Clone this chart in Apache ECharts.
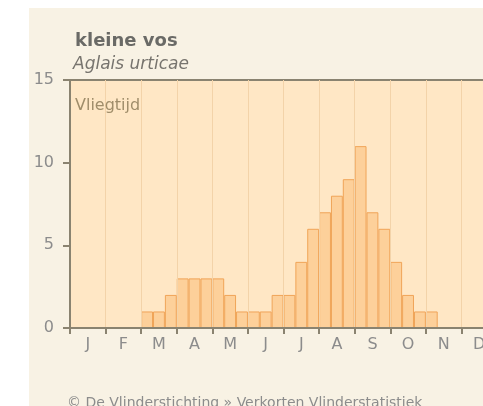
<!DOCTYPE html>
<html>
<head>
<meta charset="utf-8">
<script src="https://cdn.jsdelivr.net/npm/echarts@6/dist/echarts.min.js"></script>
<style>
    html, body { margin: 0; padding: 0; background: #ffffff; }
    #chart { width: 483px; height: 406px; }
</style>
</head>
<body>
<div id="chart"></div>
<script>
// month letters, three decades (10-day periods) per month
const months = ['J', 'F', 'M', 'A', 'M', 'J', 'J', 'A', 'S', 'O', 'N', 'D']
const decades = []
months.forEach((m, i) => {
    for (let d = 1; d <= 3; d++) decades.push((i + 1) + '-' + d)
})

// counts per decade
const flightCounts = [
    0, 0, 0,     // J
    0, 0, 0,     // F
    1, 1, 2,     // M
    3, 3, 3,     // A
    3, 2, 1,     // M
    1, 1, 2,     // J
    2, 4, 6,     // J
    7, 8, 9,     // A
    11, 7, 6,    // S
    4, 2, 1,     // O
    1, 0, 0,     // N
    0, 0, 0      // D
]

const yTicks = [0, 5, 10, 15]

const chart = echarts.init(document.getElementById('chart'))

const axisColor = '#8a8370'
const labelColor = '#8c8c8c'

let option = {
    backgroundColor: '#ffffff',
    animation: false,
    textStyle: { fontFamily: 'DejaVu Sans' },
    graphic: [
        {
            type: 'rect', z: -10, silent: true,
            shape: { x: 29, y: 8, width: 460, height: 400 },
            style: { fill: '#f8f2e4' }
        },
        {
            type: 'text', left: 75, top: 32, z: 10,
            style: { text: 'kleine vos', font: 'bold 18px "DejaVu Sans"', fill: '#6a6a66' }
        },
        {
            type: 'text', left: 73, top: 56, z: 10,
            style: { text: 'Aglais urticae', font: 'italic 17px "DejaVu Sans"', fill: '#77746e' }
        },
        {
            type: 'text', left: 75, top: 98, z: 10,
            style: { text: 'Vliegtijd', font: '16px "DejaVu Sans"', fill: '#a08d6a' }
        },
        {
            type: 'text', left: 67, top: 396, z: 10,
            style: { text: '© De Vlinderstichting » Verkorten Vlinderstatistiek', font: '14px "DejaVu Sans"', fill: '#8c8c8c' }
        }
    ],
    grid: {
        left: 70, top: 80, width: 427, height: 248,
        show: true,
        backgroundColor: '#ffe7c5',
        borderColor: axisColor,
        borderWidth: 2,
        outerBoundsMode: 'none'
    },
    xAxis: {
        type: 'category',
        data: decades,
        boundaryGap: true,
        z: 5,
        axisLine: { show: true, lineStyle: { color: axisColor, width: 2 } },
        axisTick: {
            show: true,
            interval: (i) => i % 3 === 0,
            length: 6,
            lineStyle: { color: axisColor, width: 2 }
        },
        axisLabel: {
            interval: (i) => i % 3 === 1,
            formatter: (v, i) => months[Math.floor(i / 3)],
            color: labelColor,
            fontSize: 16,
            margin: 9,
            fontFamily: 'DejaVu Sans'
        },
        splitLine: {
            show: true,
            interval: (i) => i % 3 === 0,
            lineStyle: { color: '#f3d3a9', width: 1 }
        }
    },
    yAxis: {
        type: 'value',
        min: yTicks[0],
        max: yTicks[yTicks.length - 1],
        interval: 5,
        z: 5,
        axisLine: { show: true, lineStyle: { color: axisColor, width: 2 } },
        axisTick: { show: true, length: 7, lineStyle: { color: axisColor, width: 2 } },
        axisLabel: {
            color: labelColor,
            fontSize: 16,
            margin: 16,
            fontFamily: 'DejaVu Sans'
        },
        splitLine: { show: false }
    },
    series: [
        {
            type: 'bar',
            data: flightCounts,
            barCategoryGap: 0,
            itemStyle: {
                color: '#fdd09a',
                borderColor: '#f0a458',
                borderWidth: 1
            }
        }
    ]
}

chart.setOption(option)
</script>
</body>
</html>
